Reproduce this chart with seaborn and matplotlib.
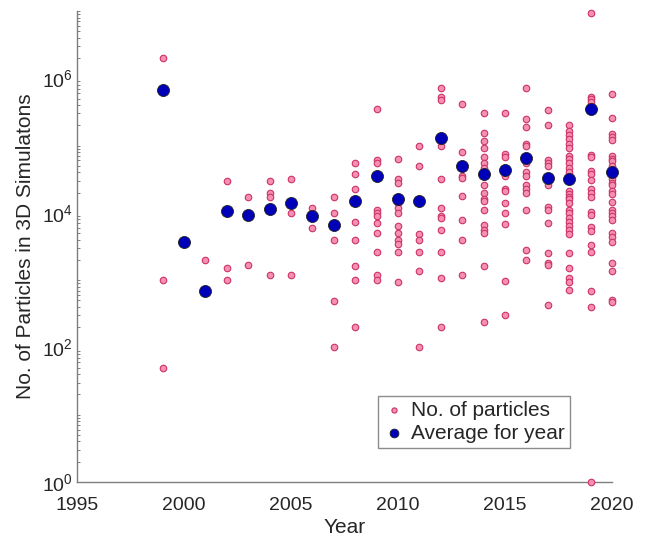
import numpy as np
import pandas as pd
import matplotlib
matplotlib.use("Agg")
import matplotlib.pyplot as plt
from matplotlib.ticker import LogLocator, NullFormatter, FixedLocator
import seaborn as sns

# ---------------- data ----------------
years_1999 = [2.0e6, 1000, 50]
years_2000 = [3700]
years_2001 = [2000]
years_2002 = [30000, 1500, 1000]
years_2003 = [17000, 1700]
years_2004 = [30000, 20000, 17000, 1200]
years_2005 = [32000, 10000, 1200]
years_2006 = [12000, 6000]
years_2007 = [17000, 10000, 4000, 490, 100]
years_2008 = [56000, 38000, 23000, 7400, 4000, 1600, 1000, 200]
years_2009 = [3.5e5, 62000, 56000, 11000, 10000, 9100, 7100, 5100, 2600, 1200, 1000]
years_2010 = [63000, 32000, 28000, 14000, 12000, 10000, 6300, 5000, 4000, 3400, 2600, 930]
years_2011 = [1.0e5, 50000, 4800, 3900, 2600, 1350, 100]
years_2012 = [7.1e5, 5.2e5, 4.7e5, 1.0e5, 32000, 12000, 8900, 8300, 5500, 2600, 1070, 200]
years_2013 = [4.1e5, 81000, 35000, 33000, 18000, 7800, 4000, 1200]
years_2014 = [3.1e5, 1.55e5, 1.15e5, 91000, 68000, 56000, 46000, 26000, 20000, 16000,
              15000, 11000, 6500, 5600, 5000, 1600, 240]
years_2015 = [3.1e5, 74000, 68000, 35000, 23000, 21000, 14000, 10000, 6900, 980, 300]
years_2016 = [7.2e5, 2.5e5, 1.9e5, 1.07e5, 1.0e5, 56000, 41000, 35000, 26000, 23000,
              20000, 11000, 2800, 2000]
years_2017 = [3.4e5, 2.0e5, 62000, 56000, 50000, 26000, 12300, 11000, 7100, 2500, 1800,
              1700, 420]
years_2018 = [2.0e5, 1.66e5, 1.45e5, 1.26e5, 1.07e5, 91000, 69000, 63000, 56000, 47000,
              40000, 21000, 19000, 17000, 16000, 14000, 11000, 9800, 8500, 7200, 6300,
              5600, 4900, 2500, 1500, 1070, 930, 710]
years_2019 = [9.3e6, 5.2e5, 4.9e5, 4.5e5, 72000, 68000, 42000, 38000, 31000, 23000, 20000,
              17000, 10200, 9300, 6200, 5400, 3300, 2600, 680, 400, 1]
years_2020 = [5.8e5, 2.6e5, 1.5e5, 1.35e5, 1.2e5, 71000, 63000, 58000, 50000, 44000, 35000,
              32000, 28000, 26000, 21000, 19000, 14500, 11000, 10000, 8900, 7900, 5100,
              4400, 3700, 1800, 1350, 500, 480]

particle_lists = [years_1999, years_2000, years_2001, years_2002, years_2003, years_2004,
                  years_2005, years_2006, years_2007, years_2008, years_2009, years_2010,
                  years_2011, years_2012, years_2013, years_2014, years_2015, years_2016,
                  years_2017, years_2018, years_2019, years_2020]
year_labels = list(range(1999, 2021))

avg_years = list(range(1999, 2021))
avg_values = [6.8e5, 3700, 680, 10700, 9300, 11500, 14000, 9100, 6500, 15000, 35000, 16000,
              15000, 1.3e5, 50000, 38000, 43000, 66000, 33000, 32000, 3.5e5, 41000]

x_ticks = [1995, 2000, 2005, 2010, 2015, 2020]
y_ticks = [1, 1e2, 1e4, 1e6]

# ---------------- build tables ----------------
rows_year, rows_val = [], []
for yr, vals in zip(year_labels, particle_lists):
    rows_year += [yr] * len(vals)
    rows_val += vals
df_pts = pd.DataFrame({"Year": rows_year, "Particles": rows_val,
                       "kind": "No. of particles"})
df_avg = pd.DataFrame({"Year": avg_years, "Particles": avg_values,
                       "kind": "Average for year"})

# ---------------- style ----------------
sns.set_theme(style="white")
plt.rcParams["font.family"] = ["Liberation Sans", "DejaVu Sans"]
plt.rcParams["mathtext.fontset"] = "custom"
plt.rcParams["mathtext.rm"] = "Liberation Sans"
plt.rcParams["mathtext.default"] = "regular"

fig = plt.figure(figsize=(6.46, 5.40), dpi=100)
ax = fig.add_axes([77 / 646, 1 - 482 / 540, (612 - 77) / 646, (482 - 11) / 540])

pink_face = "#F58FB3"
pink_edge = "#CC3366"
blue_face = "#0000B8"

sns.scatterplot(data=df_pts, x="Year", y="Particles", ax=ax, color=pink_face,
                edgecolor=pink_edge, linewidth=0.8, s=22, label="No. of particles",
                clip_on=False, zorder=3)
sns.scatterplot(data=df_avg, x="Year", y="Particles", ax=ax, color=blue_face,
                edgecolor="#222222", linewidth=0.6, s=75, label="Average for year",
                clip_on=False, zorder=4)

ax.set_yscale("log")
ax.set_xlim(1995, 2020)
ax.set_ylim(1, 1e7)
ax.set_xticks(x_ticks)
ax.yaxis.set_major_locator(FixedLocator(y_ticks))
ax.yaxis.set_minor_locator(LogLocator(base=10, subs=np.arange(1, 10), numticks=30))
ax.yaxis.set_minor_formatter(NullFormatter())

axis_col = "#7f7f7f"
for side in ["top", "right"]:
    ax.spines[side].set_visible(False)
for side in ["left", "bottom"]:
    ax.spines[side].set_color(axis_col)
    ax.spines[side].set_linewidth(1.0)

ax.tick_params(axis="both", which="major", direction="in", length=5, width=0.9,
               color=axis_col, labelsize=14, labelcolor="#262626", pad=3)
ax.tick_params(axis="y", which="minor", direction="in", length=2.5, width=0.7,
               color=axis_col, left=True)
ax.tick_params(axis="x", which="major", pad=11)

ax.set_xlabel("Year", fontsize=15, color="#262626", labelpad=3)
ax.set_ylabel("No. of Particles in 3D Simulatons", fontsize=15, color="#262626",
              labelpad=5)

leg = ax.legend(loc="lower right", bbox_to_anchor=(0.921, 0.072), fontsize=15,
                frameon=True, fancybox=False, edgecolor="#8c8c8c", framealpha=1,
                handletextpad=0.3, borderpad=0.25, labelspacing=0.2,
                handlelength=1.0, borderaxespad=0)
leg.get_frame().set_linewidth(1.0)
handles = leg.legend_handles
handles[0].set_sizes([14])
handles[1].set_sizes([40])

fig.savefig("out.png", dpi=100)
